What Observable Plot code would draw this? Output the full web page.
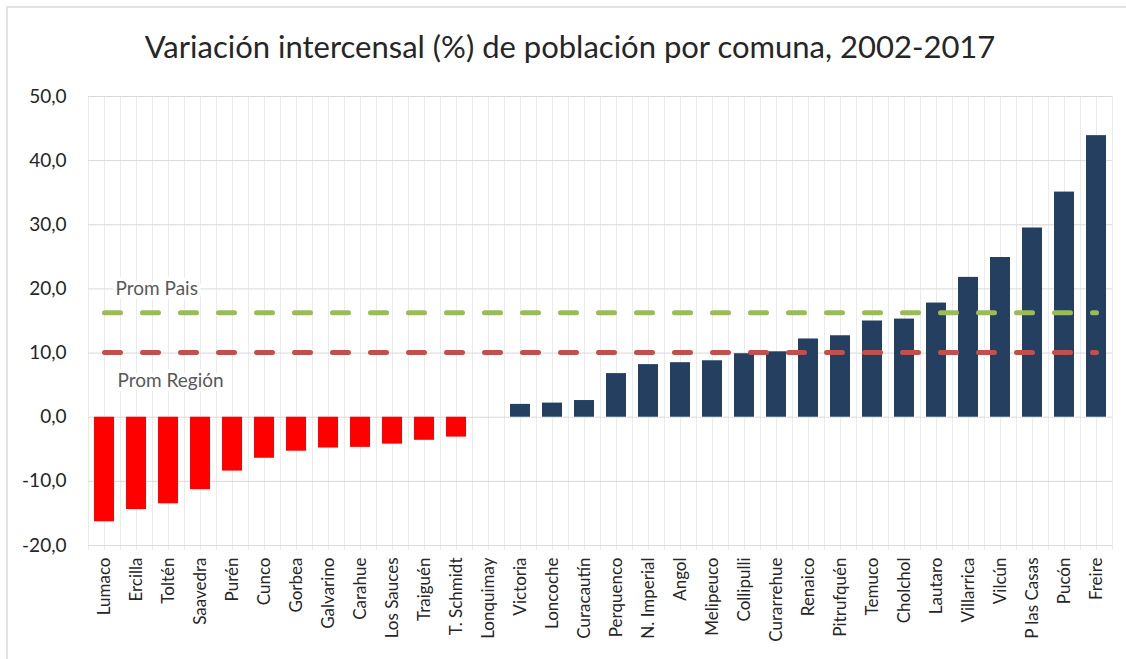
<!DOCTYPE html>
<html><head><meta charset="utf-8">
<script src="https://cdn.jsdelivr.net/npm/d3@7"></script>
<script src="https://cdn.jsdelivr.net/npm/@observablehq/plot@0.6"></script>
<style>
html,body{margin:0;padding:0;background:#fff;}
#page{position:relative;width:1126px;height:659px;overflow:hidden;font-family:Lato,"Open Sans",sans-serif;}
#border{position:absolute;left:6px;top:6px;width:1130px;height:660px;border-left:2px solid #e3e3e3;border-top:2px solid #e3e3e3;}
#title{position:absolute;left:0;top:26px;width:1126px;text-align:center;font-size:31px;color:#262626;line-height:40px;padding-left:14px;box-sizing:border-box;}
#chart{position:absolute;left:0;top:80px;}
</style></head>
<body>
<div id="page">
<div id="border"></div>
<div id="title">Variación intercensal (%) de población por comuna, 2002-2017</div>
<div id="chart"></div>
</div>
<script>
const comunas = ["Lumaco","Ercilla","Toltén","Saavedra","Purén","Cunco","Gorbea","Galvarino","Carahue","Los Sauces","Traiguén","T. Schmidt","Lonquimay","Victoria","Loncoche","Curacautín","Perquenco","N. Imperial","Angol","Melipeuco","Collipulli","Curarrehue","Renaico","Pitrufquén","Temuco","Cholchol","Lautaro","Villarrica","Vilcún","P las Casas","Pucón","Freire"];
const variacion = [-16.3,-14.4,-13.5,-11.3,-8.4,-6.4,-5.3,-4.8,-4.7,-4.2,-3.6,-3.1,0.0,2.0,2.2,2.6,6.8,8.2,8.5,8.8,9.9,10.2,12.2,12.7,15.0,15.3,17.8,21.8,24.9,29.5,35.1,43.9];
const promPais = 16.3;
const promRegion = 10.1;
const yTicks = [-20,-10,0,10,20,30,40,50];

const data = comunas.map((c,i)=>({comuna:c, valor:variacion[i]}));
const first = comunas[0], last = comunas[comunas.length-1];
const fmt = v => d3.format(".1f")(v).replace("−","-").replace(".",",");

const plot = Plot.plot({
  width: 1126,
  height: 579,
  marginLeft: 88,
  marginRight: 14,
  marginTop: 16,
  marginBottom: 114,
  style: {fontFamily: "Lato, 'Open Sans', sans-serif", color: "#262626", background: "transparent"},
  x: {domain: comunas, paddingInner: 0.36, paddingOuter: 0.18, label: null},
  y: {domain: [-20, 50], label: null},
  marks: [
    Plot.ruleX(comunas, {x: d=>d, dx: -16, stroke: "#ebebeb", insetBottom: -5}),
    Plot.ruleX(comunas, {x: d=>d, stroke: "#ebebeb", insetBottom: -5}),
    Plot.ruleX([last], {x: d=>d, dx: 16, stroke: "#ebebeb", insetBottom: -5}),
    Plot.ruleY(yTicks, {stroke: "#d9d9d9", strokeWidth: 1}),
    Plot.barY(data, {x: "comuna", y: "valor", fill: d => d.valor < 0 ? "#ff0000" : "#243f60"}),
    Plot.line([{c:first,v:promPais},{c:last,v:promPais}], {x:"c", y:"v", stroke:"#9bbb59", strokeWidth:5, strokeDasharray:"16,22", strokeLinecap:"round"}),
    Plot.line([{c:first,v:promRegion},{c:last,v:promRegion}], {x:"c", y:"v", stroke:"#c0504d", strokeWidth:5, strokeDasharray:"16,22", strokeLinecap:"round"}),
    Plot.text(["Prom Pais"], {x: ()=>first, y: ()=>20, dx: 11, textAnchor: "start", fontSize: 19, fill: "#595959", stroke: "white", strokeWidth: 8}),
    Plot.text(["Prom Región"], {x: ()=>first, y: ()=>5.6, dx: 13, textAnchor: "start", fontSize: 19, fill: "#595959", stroke: "white", strokeWidth: 8}),
    Plot.axisY({ticks: yTicks, tickFormat: fmt, tickSize: 0, tickPadding: 22, fontSize: 19, label: null}),
    Plot.axisX({tickRotate: -90, tickSize: 0, tickPadding: 12, fontSize: 17, label: null})
  ]
});
document.getElementById("chart").appendChild(plot);
</script>
</body></html>
